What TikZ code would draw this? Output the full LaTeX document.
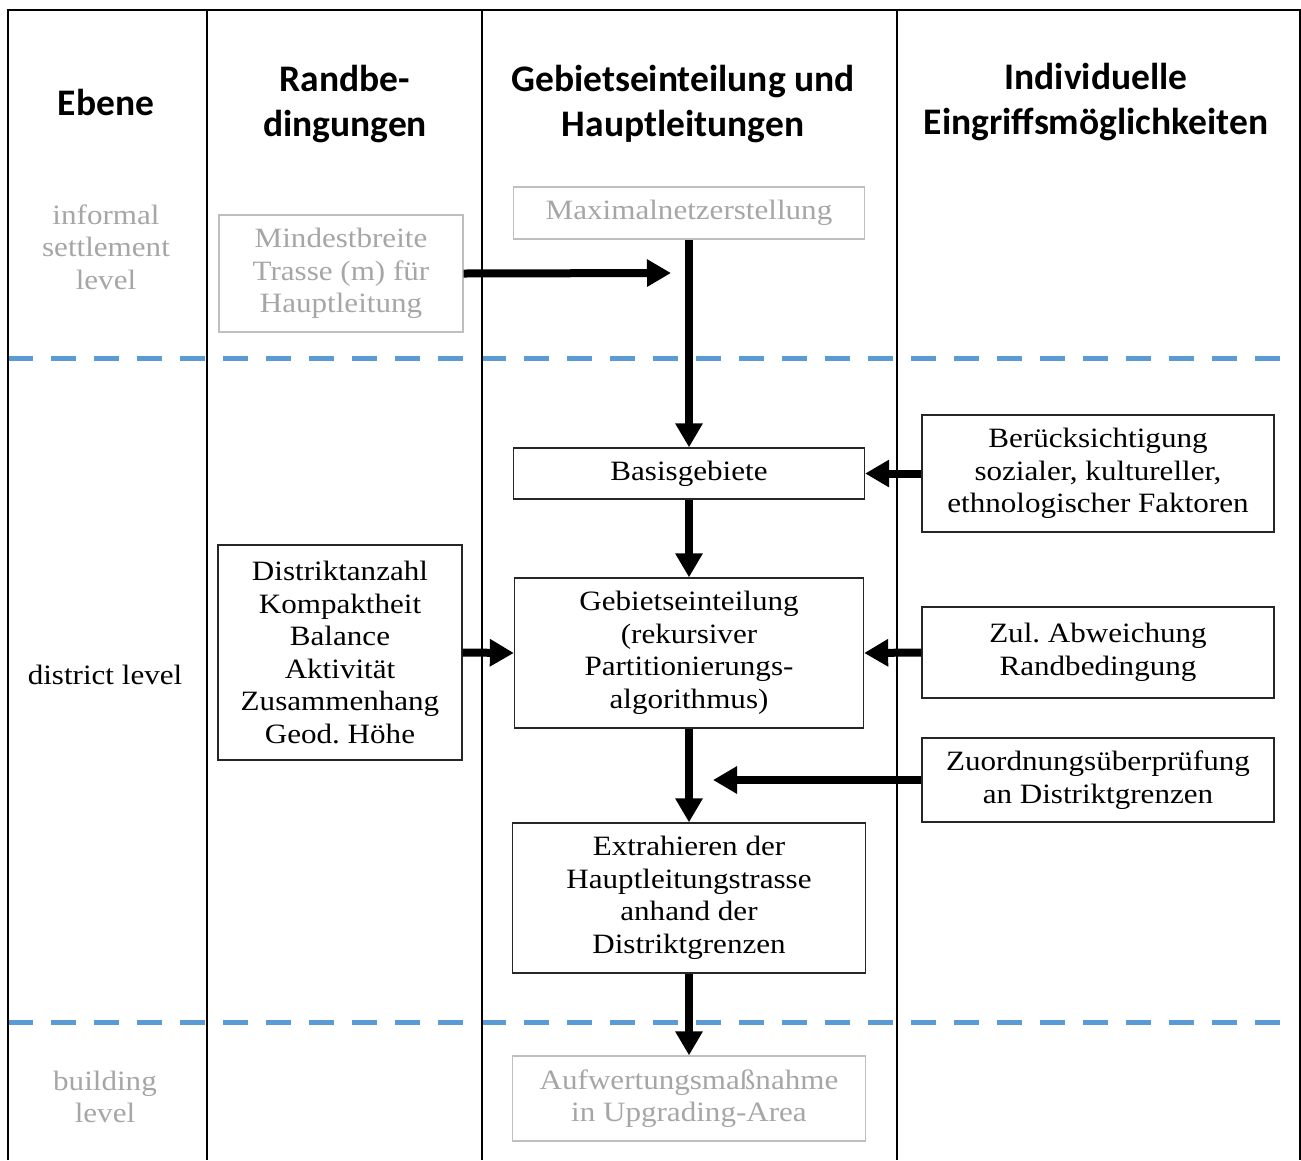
\documentclass[tikz,border=0pt]{standalone}
\usepackage{fontspec}
\setmainfont{Liberation Serif}[FakeStretch=1.11]
\newfontfamily\headfont{Carlito}
\usetikzlibrary{arrows.meta}
\frenchspacing
\definecolor{levelblue}{HTML}{5B9BD5}
\definecolor{greytext}{HTML}{A6A6A6}
\definecolor{greyline}{HTML}{BFBFBF}
\tikzset{
    frame/.style={line width=2.5pt, black},
    level/.style={draw=levelblue, line width=5pt, dash pattern=on 25pt off 18pt},
    head/.style={align=center, font=\headfont\bfseries\fontsize{37.5}{45}\selectfont},
    lbl/.style={align=center, font=\fontsize{28}{32.5}\selectfont},
    box/.style={draw=black!85, line width=1.3pt, align=center, inner sep=0pt, font=\fontsize{28}{32.5}\selectfont},
    greybox/.style={box, draw=greyline, text=greytext},
    flow/.style={line width=8pt, -{Triangle[length=24pt,width=26pt]}}
}

\begin{document}
\begin{tikzpicture}[x=1pt, y=-1pt]
    \useasboundingbox (0,0) rectangle (1301,1160);

    \draw[level] (8,358) -- (1286,358);
    \draw[level] (8,1022) -- (1286,1022);
    \draw[frame] (8,1160) -- (8,10) -- (1300,10) -- (1300,1160);
    \foreach \x in {207,482,897}
        \draw[frame] (\x,10) -- (\x,1160);

    \node[head] (ebene) at (106,102) {Ebene};
    \node[head] (rand) at (345,104) {Randbe-\\dingungen};
    \node[head] (gebhead) at (683,104) {Gebietseinteilung und\\Hauptleitungen};
    \node[head] (indiv) at (1096,102) {Individuelle\\Eingriffsmöglichkeiten};

    \node[lbl, text=greytext] (informal) at (106,247) {informal\\settlement\\level};
    \node[lbl] (district) at (105,675) {district level};
    \node[lbl, text=greytext] (building) at (105,1097) {building\\level};

    \node[greybox, minimum width=244pt, minimum height=117pt] (breite) at (341,273.5) {Mindestbreite\\Trasse (m) für\\Hauptleitung};
    \node[greybox, minimum width=351pt, minimum height=52pt] (maxnetz) at (689,213) {Maximalnetzerstellung};
    \node[box, minimum width=351pt, minimum height=51pt] (basis) at (689,473.5) {Basisgebiete};
    \node[box, minimum width=352pt, minimum height=117pt] (faktoren) at (1098,473.5) {Berücksichtigung\\sozialer, kultureller,\\ethnologischer Faktoren};
    \node[box, minimum width=349pt, minimum height=150pt] (gebiet) at (689,653) {Gebietseinteilung\\(rekursiver\\Partitionierungs-\\algorithmus)};
    \node[box, minimum width=244pt, minimum height=215pt] (kriterien) at (340,652.5) {Distriktanzahl\\Kompaktheit\\Balance\\Aktivität\\Zusammenhang\\Geod. Höhe};
    \node[box, minimum width=352pt, minimum height=91pt] (abweichung) at (1098,652.5) {Zul. Abweichung\\Randbedingung};
    \node[box, minimum width=352pt, minimum height=84pt] (zuordnung) at (1098,780) {Zuordnungsüberprüfung\\an Distriktgrenzen};
    \node[box, minimum width=353pt, minimum height=150pt] (extrahieren) at (689,898) {Extrahieren der\\Hauptleitungstrasse\\anhand der\\Distriktgrenzen};
    \node[greybox, minimum width=353pt, minimum height=85pt] (aufwertung) at (689,1098.5) {Aufwertungsmaßnahme\\in Upgrading-Area};

    \coordinate (breiteEnd) at (671,273);
    \coordinate (zuordEnd) at (713,780);

    \draw[flow] (breite.east) -- (breiteEnd);
    \draw[flow] (maxnetz.south) -- (basis.north);
    \draw[flow] (faktoren.west) -- (basis.east);
    \draw[flow] (basis.south) -- (gebiet.north);
    \draw[flow] (kriterien.east) -- (gebiet.west);
    \draw[flow] (abweichung.west) -- (gebiet.east);
    \draw[flow] (zuordnung.west) -- (zuordEnd);
    \draw[flow] (gebiet.south) -- (extrahieren.north);
    \draw[flow] (extrahieren.south) -- (aufwertung.north);
\end{tikzpicture}
\end{document}
